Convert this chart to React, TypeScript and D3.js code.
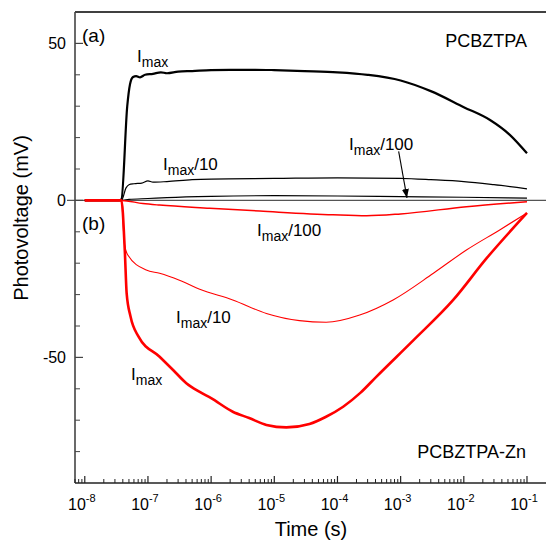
import React from "react";
import * as d3 from "d3";

// ---- data (time in s, photovoltage in mV) ----
const blackMaxT = [1e-8, 3.5e-8, 3.8e-8, 4.7e-8, 5.2e-8, 5.8e-8, 6.5e-8, 7.5e-8, 9e-8, 1.2e-7, 1.6e-7, 2e-7, 3e-7, 5e-7, 1e-6, 2e-6, 5e-6, 1e-5, 3e-5, 1e-4, 3e-4, 1e-3, 3e-3, 1e-2, 2.6e-2, 5.4e-2, 1e-1];
const blackMaxV = [0, 0, 0.3, 30, 37, 39.3, 39.6, 39.2, 40.0, 40.3, 40.8, 40.5, 41.0, 41.2, 41.5, 41.6, 41.6, 41.5, 41.2, 40.8, 40.0, 38.2, 34.8, 29.7, 25.6, 20.8, 15];

const blackTenT = [1e-8, 3.8e-8, 4.5e-8, 5e-8, 6e-8, 8e-8, 1e-7, 1.2e-7, 2e-7, 5e-7, 1e-6, 1e-5, 1e-4, 1e-3, 3e-3, 1e-2, 3e-2, 1e-1];
const blackTenV = [0, 0, 4, 5, 5.3, 5.5, 6.2, 5.8, 6.0, 6.6, 6.8, 7.0, 7.2, 7.0, 6.6, 6.0, 5.0, 3.7];

const blackHundT = [1e-8, 3.8e-8, 5e-8, 1e-7, 2e-7, 1e-6, 1e-5, 1e-4, 1e-3, 1e-2, 1e-1];
const blackHundV = [0, 0, 0.3, 0.6, 0.9, 1.3, 1.5, 1.4, 1.2, 1.0, 0.7];

const redMaxT = [1e-8, 3.8e-8, 4.3e-8, 4.6e-8, 5.3e-8, 7.1e-8, 1.53e-7, 2.5e-7, 4.05e-7, 6.6e-7, 1e-6, 2.2e-6, 4e-6, 7.5e-6, 1.55e-5, 3.6e-5, 6.6e-5, 1.23e-4, 2.3e-4, 4.15e-4, 1.6e-3, 6.8e-3, 2.3e-2, 1e-1];
const redMaxV = [0, 0, -16, -29.6, -37, -43.4, -49.8, -54, -58.2, -61, -63, -67.3, -69.3, -71.5, -72.3, -71.2, -68.9, -65.7, -61.3, -56.1, -44.5, -31.7, -18.4, -4];

const redTenT = [1e-8, 3.8e-8, 4.25e-8, 4.8e-8, 9.4e-8, 1.53e-7, 3.15e-7, 6.6e-7, 2.2e-6, 7.5e-6, 2.5e-5, 6.6e-5, 2.25e-4, 7.6e-4, 3.3e-3, 1.1e-2, 3.7e-2, 1e-1];
const redTenV = [0, 0, -14, -17.4, -22.2, -23.2, -25.4, -28.3, -31.7, -36, -38.3, -38.8, -36.5, -31.7, -23.2, -15.8, -9.4, -4];

const redHundT = [1e-8, 3.8e-8, 8.3e-8, 1.53e-7, 9.5e-7, 5.9e-6, 8.5e-5, 2.9e-4, 1e-3, 1.1e-2, 1e-1];
const redHundV = [0, 0, -1, -1.5, -2.5, -3.4, -4.6, -4.9, -4.3, -2, -0.4];

const xMajor = [1e-8, 1e-7, 1e-6, 1e-5, 1e-4, 1e-3, 1e-2, 1e-1];
const xExp = ["-8", "-7", "-6", "-5", "-4", "-3", "-2", "-1"];
const yMajor = [-50, 0, 50];
const yMinor = [-80, -70, -60, -40, -30, -20, -10, 10, 20, 30, 40];

const W = 546, H = 543;
const L = 75, R = 546, T = 12, B = 483;
const FONT = "'Liberation Sans', Arial, Helvetica, sans-serif";

export default function App() {
  const x = d3.scaleLog().domain([7e-9, 0.2]).range([L, R]);
  const y = d3.scaleLinear().domain([-90, 60]).range([B, T]);

  const mk = (ts: number[], vs: number[]) =>
    d3.line<number>().x((_, i) => x(ts[i])).y((v) => y(v)).curve(d3.curveMonotoneX)(vs) || "";

  const minorX: number[] = [];
  for (let e = -9; e <= -1; e++) {
    for (let k = 2; k <= 9; k++) {
      const v = k * Math.pow(10, e);
      if (v >= 7e-9 && v < 0.1) minorX.push(v);
    }
  }

  const label = (px: number, py: number, suffix: string, key: string) => (
    <text key={key} x={px} y={py} fontFamily={FONT} fontSize={17} fill="#000">
      I<tspan fontSize={14} dy={5}>max</tspan>
      {suffix ? <tspan fontSize={17} dy={-5}>{suffix}</tspan> : null}
    </text>
  );

  return (
    <svg width={W} height={H} style={{ position: "absolute", left: 0, top: 0 }} xmlns="http://www.w3.org/2000/svg">
      <rect x={0} y={0} width={W} height={H} fill="#fff" />
      {/* zero line */}
      <line x1={67} x2={R} y1={y(0)} y2={y(0)} stroke="#555" strokeWidth={1.3} />

      {/* curves */}
      <path d={mk(blackHundT, blackHundV)} fill="none" stroke="#000" strokeWidth={1.2} />
      <path d={mk(blackTenT, blackTenV)} fill="none" stroke="#000" strokeWidth={1.2} />
      <path d={mk(blackMaxT, blackMaxV)} fill="none" stroke="#000" strokeWidth={2.2} />
      <path d={mk(redHundT, redHundV)} fill="none" stroke="#ff0000" strokeWidth={1.5} />
      <path d={mk(redTenT, redTenV)} fill="none" stroke="#ff0000" strokeWidth={1.1} />
      <path d={mk(redMaxT, redMaxV)} fill="none" stroke="#ff0000" strokeWidth={2.6} />

      {/* frame */}
      <line x1={L} x2={R} y1={T} y2={T} stroke="#000" strokeWidth={1.5} />
      <line x1={L} x2={L} y1={T} y2={B} stroke="#444" strokeWidth={1.6} />
      <line x1={L} x2={R} y1={B} y2={B} stroke="#222" strokeWidth={1.6} />

      {/* x ticks */}
      {xMajor.map((v) => (
        <line key={"xm" + v} x1={x(v)} x2={x(v)} y1={B} y2={B - 7} stroke="#222" strokeWidth={1.2} />
      ))}
      {minorX.map((v) => (
        <line key={"xn" + v} x1={x(v)} x2={x(v)} y1={B} y2={B - 4} stroke="#222" strokeWidth={1} />
      ))}
      {xMajor.map((v, i) => (
        <text key={"xl" + v} x={x(v) - 3} y={510} textAnchor="middle" fontFamily={FONT} fontSize={16} fill="#000">
          10<tspan fontSize={11} dy={-8}>{xExp[i]}</tspan>
        </text>
      ))}

      {/* y ticks */}
      {yMajor.map((v) => (
        <line key={"ym" + v} x1={L} x2={L + 8} y1={y(v)} y2={y(v)} stroke="#444" strokeWidth={1.2} />
      ))}
      {yMinor.map((v) => (
        <line key={"yn" + v} x1={L} x2={L + 5} y1={y(v)} y2={y(v)} stroke="#444" strokeWidth={1} />
      ))}
      {yMajor.map((v) => (
        <text key={"yl" + v} x={66} y={y(v) + 6} textAnchor="end" fontFamily={FONT} fontSize={16} fill="#000">
          {String(v)}
        </text>
      ))}

      {/* axis titles */}
      <text x={311} y={536} textAnchor="middle" fontFamily={FONT} fontSize={20} fill="#000">Time (s)</text>
      <text transform={`translate(28,218) rotate(-90)`} textAnchor="middle" fontFamily={FONT} fontSize={20} fill="#000">
        Photovoltage (mV)
      </text>

      {/* panel labels */}
      <text x={82} y={42} fontFamily={FONT} fontSize={19} fill="#000">(a)</text>
      <text x={82} y={230} fontFamily={FONT} fontSize={19} fill="#000">(b)</text>
      <text x={527} y={47} textAnchor="end" fontFamily={FONT} fontSize={18} fill="#000">PCBZTPA</text>
      <text x={526} y={458} textAnchor="end" fontFamily={FONT} fontSize={18} fill="#000">PCBZTPA-Zn</text>

      {/* curve labels */}
      {label(137, 62, "", "a1")}
      {label(163, 170, "/10", "a2")}
      {label(349, 150, "/100", "a3")}
      {label(257, 236, "/100", "b3")}
      {label(176, 323, "/10", "b2")}
      {label(131, 380, "", "b1")}

      {/* arrow */}
      <defs>
        <marker id="ah" markerWidth={10} markerHeight={10} refX={9} refY={5} orient="auto" markerUnits="userSpaceOnUse">
          <path d="M0,1.5 L9,5 L0,8.5 Z" fill="#000" />
        </marker>
      </defs>
      <line x1={x(9.3e-4)} y1={y(15.6)} x2={x(1.26e-3)} y2={y(0.8)} stroke="#000" strokeWidth={1.1} markerEnd="url(#ah)" />
    </svg>
  );
}
